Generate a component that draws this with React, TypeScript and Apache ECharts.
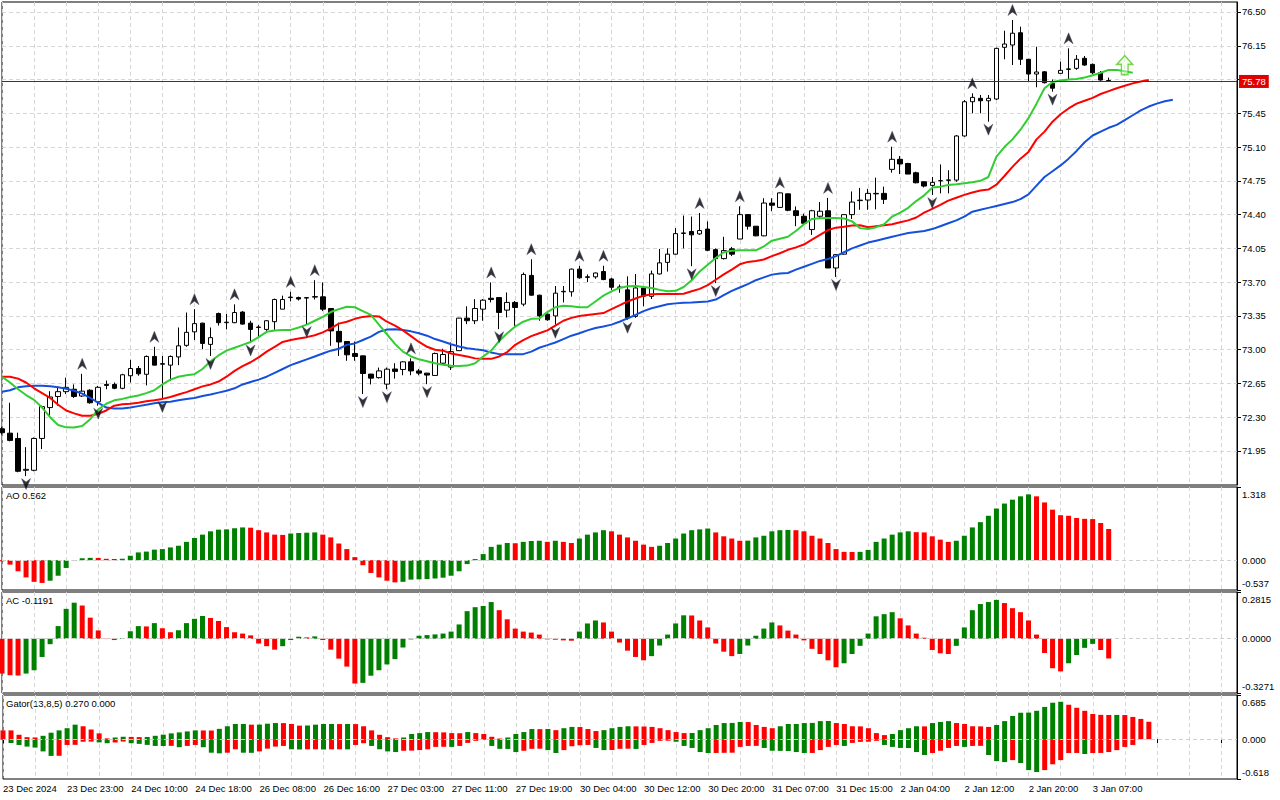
import React, { useEffect, useRef } from "react";
import * as echarts from "echarts";

// ---------- DATA ----------
const xTickLabels = [
  "23 Dec 2024", "23 Dec 23:00", "24 Dec 10:00", "24 Dec 18:00", "26 Dec 08:00", "26 Dec 16:00",
  "27 Dec 03:00", "27 Dec 11:00", "27 Dec 19:00", "30 Dec 04:00", "30 Dec 12:00", "30 Dec 20:00",
  "31 Dec 07:00", "31 Dec 15:00", "2 Jan 04:00", "2 Jan 12:00", "2 Jan 20:00", "3 Jan 07:00",
];
const SLOT_COUNT = 155;

const openP = [72.18,72.135,72.08,71.75,71.75,72.08,72.40,72.515,72.565,72.59,
 72.52,72.58,72.46,72.64,72.64,72.60,72.73,72.805,72.745,72.93,
 72.855,72.84,72.925,73.045,73.185,73.275,73.055,73.375,73.28,73.28,
 73.39,73.275,73.23,73.21,73.29,73.42,73.54,73.54,73.535,73.545,
 73.548,73.427,73.19,73.085,72.96,72.936,72.747,72.71,72.643,72.80,
 72.795,72.874,72.78,72.757,72.733,72.86,72.82,72.99,73.327,73.30,
 73.42,73.533,73.54,73.41,73.49,73.472,73.77,73.565,73.368,73.35,
 73.60,73.60,73.835,73.755,73.755,73.81,73.733,73.65,73.62,73.345,
 73.64,73.553,73.785,73.905,73.99,74.205,74.225,74.20,74.25,74.037,
 73.944,74.045,74.147,74.40,74.28,74.18,74.52,74.475,74.615,74.44,
 74.383,74.245,74.383,74.44,73.847,73.99,74.40,74.545,74.551,74.615,
 74.62,74.869,74.973,74.93,74.834,74.74,74.703,74.75,74.755,74.758,
 75.215,75.57,75.605,75.58,75.598,76.134,76.158,76.285,76.01,75.857,
 75.88,75.76,75.864,75.905,75.916,76.02,75.957,75.87,75.79];
const highP = [72.20,72.45,72.14,71.99,72.09,72.42,72.57,72.61,72.71,72.64,
 72.75,72.59,72.625,72.68,72.66,72.75,72.895,72.83,72.94,73.03,
 72.935,72.94,73.23,73.385,73.42,73.28,73.23,73.385,73.37,73.47,
 73.40,73.30,73.255,73.305,73.53,73.56,73.60,73.55,73.545,73.72,
 73.697,73.43,73.28,73.09,73.085,72.94,72.75,72.815,72.815,72.86,
 72.88,72.91,72.80,72.76,72.97,73.01,73.075,73.33,73.45,73.524,
 73.524,73.697,73.54,73.593,73.505,73.80,73.938,73.57,73.375,73.66,
 73.66,73.84,73.87,73.78,73.80,73.87,73.745,73.675,73.76,73.785,
 73.66,73.82,74.044,74.05,74.26,74.39,74.38,74.417,74.33,74.05,
 74.17,74.065,74.486,74.40,74.28,74.57,74.57,74.63,74.62,74.485,
 74.41,74.45,74.53,74.573,73.99,74.40,74.64,74.677,74.667,74.783,
 74.69,75.104,75.007,74.937,74.845,74.748,74.79,74.92,74.86,75.225,
 75.587,75.657,75.64,75.64,76.13,76.306,76.417,76.348,76.01,76.14,
 75.888,75.80,75.985,76.123,76.054,76.044,75.967,75.888,75.82];
const lowP = [72.12,72.05,71.73,71.69,71.74,71.97,72.31,72.42,72.54,72.50,
 72.51,72.44,72.42,72.59,72.59,72.59,72.66,72.73,72.63,72.84,
 72.49,72.68,72.84,73.03,73.10,73.005,72.935,73.25,73.21,73.275,
 73.26,73.075,73.125,73.195,73.195,73.42,73.50,73.51,73.265,73.52,
 73.40,73.04,72.936,72.885,72.885,72.54,72.64,72.70,72.59,72.70,
 72.735,72.735,72.735,72.643,72.73,72.84,72.79,72.99,73.265,73.265,
 73.30,73.49,73.213,73.334,73.247,73.45,73.56,73.30,73.30,73.258,
 73.49,73.55,73.735,73.70,73.735,73.72,73.62,73.59,73.31,73.33,
 73.45,73.525,73.78,73.81,73.985,74.05,73.865,74.19,74.02,73.69,
 73.935,73.97,74.145,74.245,74.175,74.175,74.435,74.47,74.435,74.28,
 74.297,74.19,74.355,73.845,73.754,73.985,74.355,74.45,74.45,74.454,
 74.51,74.835,74.82,74.82,74.724,74.682,74.603,74.62,74.62,74.74,
 75.207,75.45,75.45,75.363,75.588,76.01,75.95,75.95,75.78,75.72,
 75.76,75.674,75.864,75.795,75.90,75.943,75.857,75.788,75.78];
const closeP = [72.14,72.06,71.74,71.76,72.08,72.41,72.51,72.565,72.61,72.515,
 72.57,72.45,72.61,72.63,72.60,72.74,72.805,72.75,72.93,72.84,
 72.85,72.93,73.04,73.18,73.27,73.065,73.125,73.28,73.285,73.385,
 73.265,73.21,73.235,73.30,73.52,73.52,73.545,73.525,73.54,73.55,
 73.42,73.195,73.08,72.947,72.93,72.753,72.705,72.78,72.798,72.775,
 72.874,72.78,72.757,72.737,72.96,72.95,72.98,73.327,73.30,73.427,
 73.513,73.52,73.386,73.49,73.437,73.78,73.565,73.35,73.31,73.586,
 73.605,73.835,73.745,73.75,73.795,73.727,73.647,73.645,73.33,73.64,
 73.555,73.785,73.90,73.99,74.203,74.21,74.19,74.235,74.03,73.944,
 74.027,73.99,74.40,74.28,74.18,74.52,74.497,74.625,74.445,74.39,
 74.31,74.44,74.435,73.847,73.985,74.40,74.53,74.55,74.62,74.62,
 74.558,74.973,74.925,74.82,74.73,74.696,74.734,74.752,74.76,75.215,
 75.57,75.615,75.58,75.605,76.123,76.168,76.28,76.01,75.857,75.878,
 75.767,75.71,75.895,75.91,76.01,75.95,75.87,75.795,75.78];

// Alligator (already shifted as drawn)
const jaw = [72.563,72.58,72.61,72.62,72.625,72.625,72.62,72.61,72.595,72.574,
 72.545,72.50,72.45,72.40,72.39,72.39,72.40,72.415,72.43,72.445,
 72.455,72.46,72.475,72.49,72.50,72.52,72.535,72.555,72.574,72.60,
 72.64,72.665,72.69,72.72,72.76,72.80,72.84,72.87,72.90,72.93,
 72.96,72.99,73.01,73.05,73.065,73.10,73.135,73.185,73.21,73.213,
 73.205,73.19,73.17,73.145,73.11,73.085,73.057,73.033,73.016,73.005,
 72.995,72.97,72.954,72.954,72.954,72.954,72.98,73.02,73.047,73.075,
 73.11,73.145,73.17,73.20,73.225,73.24,73.26,73.29,73.325,73.36,
 73.40,73.43,73.45,73.47,73.48,73.487,73.49,73.495,73.50,73.52,
 73.565,73.61,73.645,73.68,73.72,73.75,73.778,73.79,73.795,73.83,
 73.86,73.89,73.92,73.94,73.97,74.01,74.05,74.08,74.11,74.13,
 74.15,74.17,74.19,74.21,74.22,74.23,74.25,74.28,74.31,74.34,
 74.38,74.43,74.45,74.47,74.49,74.51,74.53,74.56,74.61,74.70,
 74.79,74.85,74.91,74.98,75.06,75.15,75.22,75.26,75.30,75.33,
 75.38,75.43,75.48,75.52,75.55,75.575,75.59];
const teeth = [72.72,72.72,72.70,72.66,72.60,72.55,72.50,72.43,72.37,72.34,
 72.315,72.315,72.335,72.37,72.42,72.435,72.44,72.45,72.465,72.475,
 72.49,72.51,72.535,72.56,72.59,72.62,72.64,72.67,72.72,72.78,
 72.83,72.87,72.92,72.98,73.03,73.08,73.10,73.115,73.13,73.15,
 73.18,73.22,73.27,73.29,73.32,73.34,73.35,73.345,73.29,73.25,
 73.20,73.14,73.08,73.03,73.00,72.99,72.96,72.945,72.93,72.91,
 72.905,72.905,72.93,72.975,73.05,73.10,73.14,73.17,73.20,73.25,
 73.30,73.33,73.35,73.36,73.37,73.38,73.42,73.46,73.50,73.53,
 73.56,73.575,73.577,73.577,73.577,73.58,73.605,73.63,73.67,73.725,
 73.78,73.83,73.885,73.91,73.92,73.935,73.97,74.00,74.035,74.06,
 74.09,74.14,74.19,74.24,74.265,74.275,74.286,74.29,74.27,74.28,
 74.29,74.30,74.32,74.34,74.37,74.42,74.46,74.50,74.545,74.575,
 74.605,74.63,74.65,74.66,74.71,74.80,74.895,74.98,75.05,75.18,
 75.26,75.363,75.44,75.50,75.55,75.58,75.61,75.65,75.68,75.71,
 75.735,75.76,75.78,75.795];
const lips = [72.72,72.66,72.59,72.53,72.48,72.40,72.30,72.22,72.195,72.193,
 72.21,72.28,72.38,72.44,72.475,72.49,72.51,72.525,72.55,72.58,
 72.64,72.69,72.72,72.736,72.746,72.80,72.88,72.94,72.99,73.02,
 73.05,73.08,73.13,73.185,73.20,73.205,73.205,73.23,73.26,73.30,
 73.34,73.39,73.42,73.445,73.44,73.40,73.36,73.26,73.16,73.06,
 72.98,72.93,72.90,72.88,72.86,72.845,72.833,72.83,72.835,72.86,
 72.93,72.99,73.09,73.17,73.24,73.29,73.32,73.323,73.39,73.44,
 73.455,73.45,73.44,73.44,73.50,73.56,73.605,73.64,73.657,73.66,
 73.65,73.64,73.62,73.605,73.61,73.65,73.72,73.81,73.88,73.95,
 74.01,74.025,74.03,74.03,74.03,74.07,74.13,74.15,74.17,74.23,
 74.30,74.355,74.362,74.365,74.365,74.36,74.33,74.26,74.25,74.27,
 74.30,74.38,74.42,74.47,74.54,74.60,74.68,74.69,74.706,74.715,
 74.725,74.735,74.75,74.79,75.00,75.10,75.18,75.28,75.40,75.55,
 75.71,75.775,75.79,75.80,75.805,75.82,75.845,75.87,75.90,75.90,
 75.885,75.87];

const fractalUpIdx = [10, 19, 24, 29, 36, 39, 51, 61, 66, 72, 75, 87, 92, 97, 103, 111, 121, 126, 133];
const fractalDownIdx = [3, 12, 20, 26, 31, 38, 45, 48, 53, 62, 69, 78, 86, 89, 104, 116, 123, 131];
const signalIdx = [140];
const signalPrice = [75.95];
const lastPrice = 75.78;

const mainTickValues = [76.50, 76.15, 75.80, 75.45, 75.10, 74.75, 74.40, 74.05, 73.70, 73.35, 73.00, 72.65, 72.30, 71.95];
const mainLabelValues = [76.50, 76.15, 75.45, 75.10, 74.75, 74.40, 74.05, 73.70, 73.35, 73.00, 72.65, 72.30, 71.95];

const aoValues = [-0.02,-0.08,-0.20,-0.31,-0.39,-0.41,-0.37,-0.28,-0.14,-0.01,
 0.035,0.042,0.04,0.025,0.022,0.026,0.08,0.14,0.155,0.19,
 0.20,0.23,0.26,0.33,0.40,0.46,0.52,0.55,0.555,0.575,
 0.59,0.585,0.54,0.50,0.46,0.455,0.48,0.49,0.495,0.50,
 0.46,0.41,0.30,0.20,0.055,-0.09,-0.23,-0.31,-0.37,-0.40,
 -0.39,-0.35,-0.345,-0.34,-0.33,-0.315,-0.28,-0.20,-0.07,0.02,
 0.11,0.24,0.28,0.31,0.305,0.33,0.345,0.35,0.33,0.35,
 0.33,0.31,0.39,0.46,0.50,0.54,0.52,0.46,0.41,0.35,
 0.28,0.24,0.26,0.31,0.39,0.48,0.54,0.555,0.57,0.50,
 0.43,0.39,0.35,0.352,0.41,0.44,0.52,0.54,0.545,0.54,
 0.52,0.44,0.39,0.31,0.20,0.15,0.148,0.15,0.185,0.33,
 0.39,0.46,0.50,0.52,0.505,0.50,0.43,0.37,0.33,0.35,
 0.44,0.59,0.685,0.80,0.93,1.02,1.09,1.15,1.185,1.15,
 1.04,0.91,0.81,0.80,0.76,0.745,0.74,0.67,0.562];
const acValues = [-0.21,-0.22,-0.222,-0.21,-0.19,-0.11,-0.033,0.076,0.18,0.217,
 0.20,0.127,0.05,-0.002,-0.008,0.004,0.045,0.076,0.074,0.094,
 0.063,0.039,0.051,0.094,0.12,0.137,0.125,0.107,0.07,0.039,
 0.031,0.02,-0.029,-0.045,-0.066,-0.045,-0.008,0.012,0.008,0.014,
 -0.008,-0.066,-0.12,-0.168,-0.27,-0.266,-0.223,-0.19,-0.155,-0.123,
 -0.053,-0.004,0.018,0.022,0.026,0.031,0.043,0.086,0.166,0.19,
 0.197,0.221,0.172,0.117,0.061,0.043,0.037,0.025,-0.004,-0.006,
 -0.01,-0.012,0.043,0.092,0.11,0.098,0.043,-0.023,-0.072,-0.11,
 -0.13,-0.105,-0.041,0.025,0.092,0.141,0.14,0.11,0.068,-0.029,
 -0.078,-0.105,-0.092,-0.041,0.018,0.061,0.098,0.08,0.049,0.025,
 -0.01,-0.061,-0.092,-0.13,-0.172,-0.148,-0.092,-0.043,0.031,0.135,
 0.148,0.16,0.123,0.08,0.031,0.006,-0.068,-0.088,-0.092,-0.043,
 0.068,0.172,0.209,0.221,0.234,0.215,0.184,0.16,0.11,0.025,
 -0.086,-0.178,-0.197,-0.148,-0.098,-0.055,-0.031,-0.068,-0.119];
const gatorUpper = [0.136,0.136,0.068,0.031,0.026,0.052,0.10,0.136,0.17,0.225,
 0.20,0.15,0.09,0.012,0.026,0.037,0.035,0.032,0.034,0.052,
 0.07,0.09,0.105,0.12,0.136,0.135,0.134,0.16,0.20,0.235,
 0.236,0.225,0.226,0.24,0.25,0.249,0.235,0.21,0.212,0.225,
 0.235,0.236,0.234,0.236,0.234,0.20,0.136,0.068,0.031,0.012,
 0.026,0.08,0.094,0.11,0.108,0.105,0.094,0.092,0.11,0.094,
 0.08,0.037,0.01,0.026,0.08,0.11,0.157,0.155,0.158,0.14,
 0.17,0.19,0.188,0.157,0.126,0.14,0.17,0.19,0.20,0.198,
 0.196,0.19,0.17,0.14,0.11,0.094,0.096,0.14,0.17,0.22,
 0.25,0.252,0.267,0.265,0.22,0.19,0.17,0.20,0.235,0.236,
 0.25,0.252,0.28,0.282,0.25,0.235,0.20,0.198,0.17,0.094,
 0.063,0.08,0.14,0.17,0.20,0.198,0.25,0.267,0.28,0.25,
 0.235,0.20,0.198,0.19,0.22,0.28,0.36,0.41,0.412,0.44,
 0.50,0.565,0.58,0.534,0.487,0.44,0.39,0.377,0.375,0.376,
 0.374,0.345,0.314,0.270];
const gatorLower = [-0.01,-0.06,-0.09,-0.115,-0.13,-0.19,-0.26,-0.258,-0.09,-0.088,
 -0.04,-0.038,-0.05,-0.063,-0.052,-0.037,-0.063,-0.073,-0.089,-0.105,
 -0.106,-0.104,-0.125,-0.105,-0.09,-0.125,-0.21,-0.22,-0.21,-0.157,
 -0.21,-0.212,-0.19,-0.147,-0.115,-0.105,-0.157,-0.16,-0.158,-0.157,
 -0.16,-0.158,-0.157,-0.158,-0.09,-0.063,-0.105,-0.157,-0.19,-0.2,
 -0.18,-0.178,-0.17,-0.157,-0.12,-0.118,-0.12,-0.105,-0.058,-0.026,
 -0.01,-0.105,-0.15,-0.152,-0.2,-0.18,-0.15,-0.148,-0.17,-0.215,
 -0.17,-0.11,-0.095,-0.09,-0.136,-0.17,-0.168,-0.15,-0.148,-0.152,
 -0.09,-0.058,-0.026,-0.024,-0.04,-0.105,-0.136,-0.2,-0.215,-0.214,
 -0.212,-0.21,-0.12,-0.105,-0.104,-0.136,-0.18,-0.182,-0.184,-0.2,
 -0.215,-0.214,-0.17,-0.12,-0.09,-0.105,-0.058,-0.042,-0.04,-0.026,
 -0.09,-0.12,-0.136,-0.138,-0.2,-0.246,-0.215,-0.18,-0.136,-0.105,
 -0.12,-0.105,-0.104,-0.246,-0.34,-0.356,-0.325,-0.37,-0.48,-0.51,
 -0.48,-0.39,-0.325,-0.215,-0.214,-0.23,-0.215,-0.214,-0.2,-0.17,
 -0.12,-0.09];

const aoScale = { min: -0.537, max: 1.318, minText: "-0.537", maxText: "1.318", zeroText: "0.000" };
const acScale = { min: -0.3271, max: 0.2815, minText: "-0.3271", maxText: "0.2815", zeroText: "0.0000" };
const gatorScale = { min: -0.618, max: 0.685, minText: "-0.618", maxText: "0.685", zeroText: "0.000" };
const panelTitles = ["AO 0.562", "AC -0.1191", "Gator(13,8,5) 0.270 0.000"];

// ---------- STYLE ----------
const FONT = "Liberation Sans";
const FS = 9.5;
const GREEN = "#008000";
const RED = "#ff0000";
const GRID_COLOR = "#d6d6d6";
const PANELS = [
  { top: 2, height: 483 },
  { top: 487, height: 103 },
  { top: 592, height: 101 },
  { top: 695, height: 84 },
];
const GRID_LEFT = 2;
const GRID_RIGHT = 43;

function trendColors(vals: number[], byMagnitude: boolean): string[] {
  let up = false;
  return vals.map((v, i) => {
    if (i > 0) {
      const a = byMagnitude ? Math.abs(v) : v;
      const b = byMagnitude ? Math.abs(vals[i - 1]) : vals[i - 1];
      if (a > b) up = true;
      else if (a < b) up = false;
    }
    return up ? GREEN : RED;
  });
}

function coloredBars(vals: number[], byMagnitude: boolean) {
  const cols = trendColors(vals, byMagnitude);
  return vals.map((v, i) => ({ value: v, itemStyle: { color: cols[i] } }));
}

const upArrow = "path://M5,0 L10,11 L5,7.5 L0,11 Z";
const downArrow = "path://M0,0 L5,3.5 L10,0 L5,11 Z";
const blockArrow = "path://M6,0 L12,7 L8.5,7 L8.5,15 L3.5,15 L3.5,7 L0,7 Z";

function buildOption() {
  const cats = Array.from({ length: SLOT_COUNT }, (_, i) => String(i));
  const dashed = { color: GRID_COLOR, type: [4, 3] as any, width: 1 };

  const grids = PANELS.map((p) => ({
    left: GRID_LEFT,
    right: GRID_RIGHT,
    top: p.top,
    height: p.height,
    show: true,
    borderColor: "#000",
    borderWidth: 1,
    containLabel: false,
  }));

  const xAxes = PANELS.map((_, gi) => ({
    type: "category",
    gridIndex: gi,
    data: cats,
    boundaryGap: false,
    axisLine: { show: false },
    axisTick: gi === 3 ? { show: true, interval: 7, length: 4, lineStyle: { color: "#000" } } : { show: false },
    axisLabel:
      gi === 3
        ? {
            show: true,
            interval: 7,
            align: "left",
            margin: 4,
            color: "#000",
            fontFamily: FONT,
            fontSize: FS,
            formatter: (_v: string, idx: number) => (idx % 8 === 0 && xTickLabels[idx / 8]) || "",
          }
        : { show: false },
    splitLine: { show: true, interval: 3, lineStyle: dashed },
  }));

  const subY = (gi: number, sc: typeof aoScale) => ({
    type: "value",
    gridIndex: gi,
    position: "right",
    min: sc.min,
    max: sc.max,
    axisLine: { show: true, lineStyle: { color: "#000" } },
    axisTick: { show: true, length: 4, customValues: [sc.min, sc.max], lineStyle: { color: "#000" } },
    axisLabel: {
      show: true,
      customValues: [0],
      formatter: () => sc.zeroText,
      margin: 5,
      color: "#000",
      fontFamily: FONT,
      fontSize: FS,
    },
    splitLine: { show: false },
  });

  const yAxes = [
    {
      type: "value",
      gridIndex: 0,
      position: "right",
      min: 71.5976,
      max: 76.6036,
      axisLine: { show: true, lineStyle: { color: "#000" } },
      axisTick: { show: true, length: 4, customValues: mainTickValues, lineStyle: { color: "#000" } },
      axisLabel: {
        show: true,
        customValues: mainLabelValues,
        formatter: (v: number) => v.toFixed(2),
        margin: 5,
        color: "#000",
        fontFamily: FONT,
        fontSize: FS,
      },
      splitLine: { show: true, lineStyle: dashed },
    },
    subY(1, aoScale),
    subY(2, acScale),
    subY(3, gatorScale),
  ];

  const zeroLine = {
    silent: true,
    symbol: ["none", "none"],
    label: { show: false },
    lineStyle: { color: "#cfcfcf", type: [4, 3], width: 1 },
    data: [{ yAxis: 0 }],
  };

  const candleData = openP.map((o, i) => [o, closeP[i], lowP[i], highP[i]]);

  const series: any[] = [
    {
      type: "candlestick",
      xAxisIndex: 0,
      yAxisIndex: 0,
      data: candleData,
      barWidth: 5,
      itemStyle: {
        color: "#ffffff",
        color0: "#000000",
        borderColor: "#000000",
        borderColor0: "#000000",
        borderWidth: 1,
      },
      markLine: {
        silent: true,
        symbol: ["none", "none"],
        lineStyle: { color: "#5a2a2a", width: 1, type: "solid" },
        label: {
          show: true,
          position: "end",
          formatter: lastPrice.toFixed(2),
          color: "#ffffff",
          backgroundColor: "#e00000",
          padding: [2, 3, 1, 3],
          fontFamily: FONT,
          fontSize: FS,
          distance: 2,
        },
        data: [{ yAxis: lastPrice }],
      },
    },
    { type: "line", name: "Jaw", xAxisIndex: 0, yAxisIndex: 0, data: jaw, showSymbol: false, symbol: "none", lineStyle: { color: "#1450dc", width: 2 } },
    { type: "line", name: "Teeth", xAxisIndex: 0, yAxisIndex: 0, data: teeth, showSymbol: false, symbol: "none", lineStyle: { color: "#ff0000", width: 2 } },
    { type: "line", name: "Lips", xAxisIndex: 0, yAxisIndex: 0, data: lips, showSymbol: false, symbol: "none", lineStyle: { color: "#32cd32", width: 2 } },
    {
      type: "scatter",
      xAxisIndex: 0,
      yAxisIndex: 0,
      data: fractalUpIdx.map((i) => [i, highP[i]]),
      symbol: upArrow,
      symbolSize: [9, 11],
      symbolOffset: [0, -10],
      itemStyle: { color: "#000000", borderColor: "#3a3a6a", borderWidth: 0.5 },
      z: 5,
    },
    {
      type: "scatter",
      xAxisIndex: 0,
      yAxisIndex: 0,
      data: fractalDownIdx.map((i) => [i, lowP[i]]),
      symbol: downArrow,
      symbolSize: [9, 11],
      symbolOffset: [0, 8],
      itemStyle: { color: "#000000", borderColor: "#3a3a6a", borderWidth: 0.5 },
      z: 5,
    },
    {
      type: "scatter",
      xAxisIndex: 0,
      yAxisIndex: 0,
      data: signalIdx.map((i, k) => [i, signalPrice[k]]),
      symbol: blockArrow,
      symbolSize: [16, 19],
      itemStyle: { color: "rgba(230,255,220,0.6)", borderColor: "#55cc22", borderWidth: 1.5 },
      z: 6,
    },
    {
      type: "bar",
      xAxisIndex: 1,
      yAxisIndex: 1,
      data: coloredBars(aoValues, false),
      barWidth: 5,
      markLine: zeroLine,
    },
    {
      type: "bar",
      xAxisIndex: 2,
      yAxisIndex: 2,
      data: coloredBars(acValues, false),
      barWidth: 5,
      markLine: zeroLine,
    },
    {
      type: "bar",
      xAxisIndex: 3,
      yAxisIndex: 3,
      data: coloredBars(gatorUpper, true),
      barWidth: 5,
      barGap: "-100%",
      markLine: zeroLine,
    },
    {
      type: "bar",
      xAxisIndex: 3,
      yAxisIndex: 3,
      data: coloredBars(gatorLower, true),
      barWidth: 5,
      barGap: "-100%",
    },
  ];

  const scales = [aoScale, acScale, gatorScale];
  const graphics: any[] = [];
  scales.forEach((sc, k) => {
    const p = PANELS[k + 1];
    graphics.push({
      type: "text",
      x: 6,
      y: p.top + 3,
      style: { text: panelTitles[k], fill: "#000", fontFamily: FONT, fontSize: FS, verticalAlign: "top" },
    });
    graphics.push({
      type: "text",
      x: 1242,
      y: p.top + 2,
      style: { text: sc.maxText, fill: "#000", fontFamily: FONT, fontSize: FS, verticalAlign: "top" },
    });
    graphics.push({
      type: "text",
      x: 1242,
      y: p.top + p.height - 2,
      style: { text: sc.minText, fill: "#000", fontFamily: FONT, fontSize: FS, verticalAlign: "bottom" },
    });
  });

  return {
    animation: false,
    backgroundColor: "#ffffff",
    grid: grids,
    xAxis: xAxes,
    yAxis: yAxes,
    series,
    graphic: graphics,
  };
}

export default function App() {
  const ref = useRef<HTMLDivElement>(null);
  useEffect(() => {
    if (!ref.current) return;
    const chart = echarts.init(ref.current, undefined, { renderer: "svg" });
    chart.setOption(buildOption() as any);
    return () => chart.dispose();
  }, []);
  return (
    <div
      ref={ref}
      style={{ position: "fixed", left: 0, top: 0, width: 1280, height: 800, background: "#fff" }}
    />
  );
}
